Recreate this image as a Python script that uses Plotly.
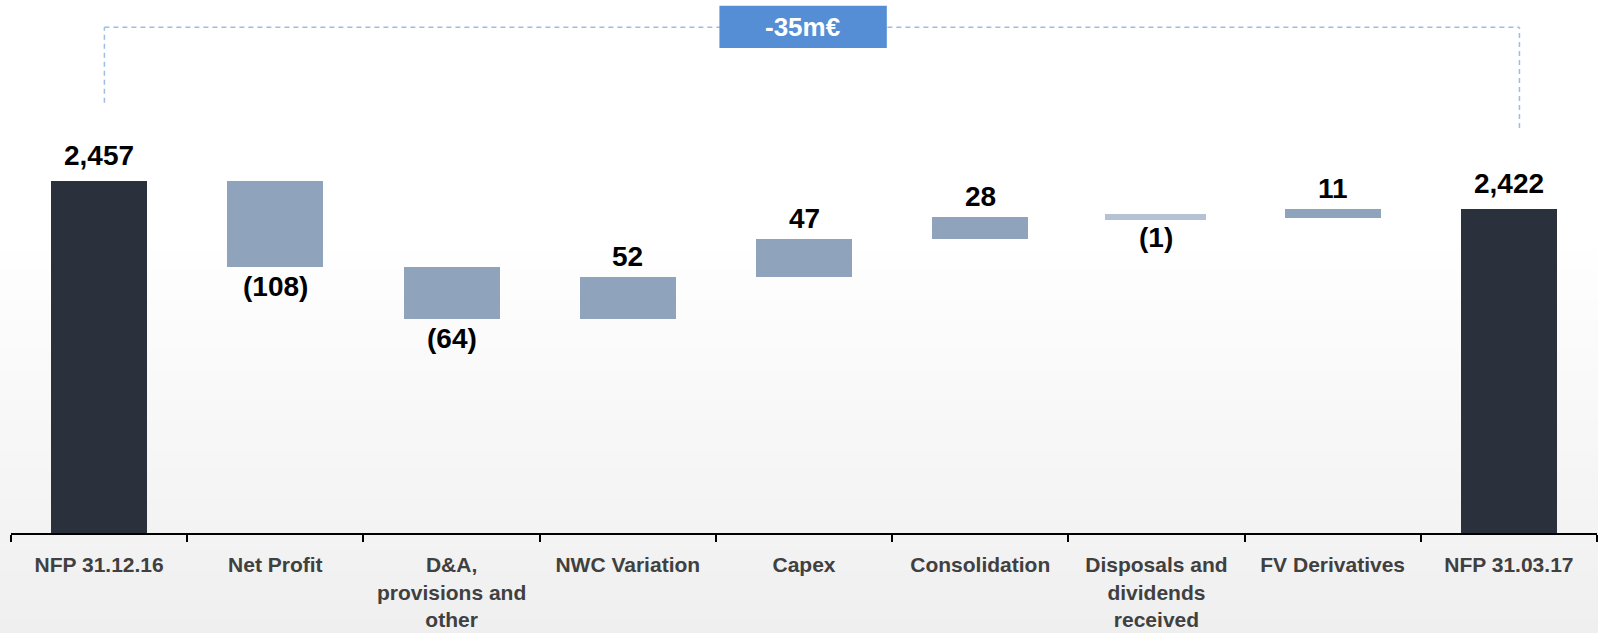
import plotly.graph_objects as go

# --- data ---
categories = [
    "NFP 31.12.16",
    "Net Profit",
    "D&A,<br>provisions and<br>other",
    "NWC Variation",
    "Capex",
    "Consolidation",
    "Disposals and<br>dividends<br>received",
    "FV Derivatives",
    "NFP 31.03.17",
]
values = [2457, -108, -64, 52, 47, 28, -1, 11, 2422]
measures = ["total", "relative", "relative", "relative", "relative",
            "relative", "relative", "relative", "total"]

TOTAL_COLOR = "#2b313c"
DELTA_COLOR = "#8fa3bc"
THIN_COLOR = "#b5c2d4"
LABEL_FONT = "Liberation Sans, Arial, sans-serif"

# build bar bases / heights from the waterfall steps
bases, heights, colors, line_w, line_c = [], [], [], [], []
level = 0
for v, m in zip(values, measures):
    if m == "total":
        bases.append(0)
        heights.append(v)
        level = v
        colors.append(TOTAL_COLOR)
    else:
        bases.append(level)
        heights.append(v)
        level += v
        colors.append(DELTA_COLOR)
    # tiny steps get a minimum visible thickness, like the source slide
    if m != "total" and abs(v) < 3:
        line_w.append(5)
        line_c.append(THIN_COLOR)
        colors[-1] = THIN_COLOR
    else:
        line_w.append(0)
        line_c.append(colors[-1])

fig = go.Figure()

# light grey gradient background (bottom of slide)
n_bands = 40
y_bottom, y_top = -0.2, 0.55
for i in range(n_bands):
    t = i / n_bands
    g = int(round(239 + (255 - 239) * t))
    fig.add_shape(
        type="rect", xref="paper", yref="paper",
        x0=-0.01, x1=1.01,
        y0=y_bottom + (y_top - y_bottom) * t - (0.01 if i == 0 else 0),
        y1=y_bottom + (y_top - y_bottom) * (t + 1 / n_bands) + 0.002,
        fillcolor=f"rgb({g},{g},{g})", line_width=0, layer="below",
    )

fig.add_trace(go.Bar(
    x=categories,
    y=heights,
    base=bases,
    width=0.545,
    marker=dict(color=colors, line=dict(width=line_w, color=line_c)),
    hoverinfo="skip",
    showlegend=False,
))

# value labels
for i, (v, m, b, h) in enumerate(zip(values, measures, bases, heights)):
    top = max(b, b + h)
    bottom = min(b, b + h)
    if m == "total":
        txt = f"{v:,}"
    elif v < 0:
        txt = f"({-v})"
    else:
        txt = f"{v}"
    if m == "total" or v >= 0:
        fig.add_annotation(x=categories[i], y=top, text=f"<b>{txt}</b>",
                           showarrow=False, yanchor="bottom",
                           yshift=8 if m == "total" else 3,
                           font=dict(size=28, color="#000000", family=LABEL_FONT))
    else:
        fig.add_annotation(x=categories[i], y=bottom, text=f"<b>{txt}</b>",
                           showarrow=False, yanchor="top", yshift=-2,
                           font=dict(size=28, color="#000000", family=LABEL_FONT))

# bracket showing overall change
change = values[-1] - values[0]
bracket = dict(color="#9dbde6", width=1.5, dash="5px,4px")
x_left, x_right = 0.03, 8.06
y_br = 0.949
fig.add_shape(type="line", xref="x", yref="paper", x0=x_left, x1=x_left,
              y0=0.807, y1=y_br, line=bracket)
fig.add_shape(type="line", xref="x", yref="paper", x0=x_left, x1=x_right,
              y0=y_br, y1=y_br, line=bracket)
fig.add_shape(type="line", xref="x", yref="paper", x0=x_right, x1=x_right,
              y0=0.76, y1=y_br, line=bracket)
fig.add_shape(type="rect", xref="x", yref="paper", x0=3.52, x1=4.47,
              y0=0.91, y1=0.989, fillcolor="#558ed5", line_width=0)
fig.add_annotation(x=3.99, xref="x", y=0.949, yref="paper", yanchor="middle",
                   text=f"<b>{change}m€</b>", showarrow=False,
                   font=dict(size=26, color="white", family=LABEL_FONT))

fig.update_xaxes(
    type="category", automargin=False,
    showline=True, linecolor="black", linewidth=2,
    ticks="outside", tickson="boundaries", ticklen=7, tickwidth=2, tickcolor="black",
    ticklabelstandoff=12,
    tickfont=dict(size=21, color="#404040", family=LABEL_FONT),
    showgrid=False, fixedrange=True,
)
fig.update_yaxes(
    range=[2017, 2683], visible=False, showgrid=False, zeroline=False,
)

fig.update_layout(
    width=1598, height=633,
    margin=dict(l=11, r=1, t=0, b=100),
    paper_bgcolor="white",
    plot_bgcolor="rgba(0,0,0,0)",
    font=dict(family=LABEL_FONT, color="#404040"),
    bargap=0,
)

# category labels bold
fig.update_xaxes(ticktext=[f"<b>{c}</b>" for c in categories], tickvals=categories)

fig.write_html("out.html", config={"displayModeBar": False},
               post_script="document.body.style.margin='0';")
